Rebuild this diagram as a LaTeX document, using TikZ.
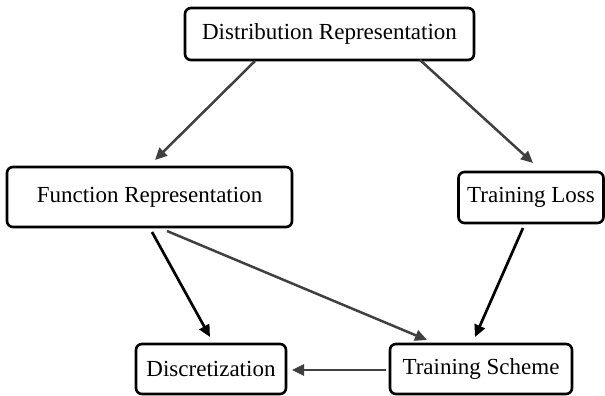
\documentclass[tikz,border=0pt]{standalone}
\usepackage{fontspec}
\setmainfont{Liberation Serif}
\usetikzlibrary{arrows.meta,calc}
\definecolor{arrgray}{HTML}{404040}
\begin{document}
\begin{tikzpicture}[x=1pt,y=-1pt,
  box/.style={draw=black,line width=2.6pt,rounded corners=6pt,fill=white,inner sep=0pt,
    font=\fontsize{23}{27}\selectfont},
  garrow/.style={draw=arrgray,line width=2.5pt,-{Triangle[length=12pt,width=11pt]}},
  barrow/.style={draw=black,line width=2.7pt,-{Triangle[length=12pt,width=11pt]}}]
\useasboundingbox (0,0) rectangle (605,396);
\node[box,minimum width=289pt,minimum height=52pt] (dist) at (329.5,34) {Distribution Representation};
\node[box,minimum width=285pt,minimum height=60pt] (func) at (149.5,197) {Function Representation};
\node[box,minimum width=145pt,minimum height=51pt] (loss) at (531,197.5) {Training Loss};
\node[box,minimum width=150pt,minimum height=50pt] (disc) at (211,369) {Discretization};
\node[box,minimum width=182pt,minimum height=50pt] (scheme) at (481,369) {Training Scheme};
\draw[garrow] ($(dist.center)+(-74.5,27)$) -- ($(func.center)+(5.5,-37)$);
\draw[garrow] ($(dist.center)+(90.5,26)$) -- ($(loss.center)+(2,-34.5)$);
\draw[barrow] ($(func.center)+(2.5,35)$) -- ($(disc.center)+(-1,-32)$);
\draw[garrow] ($(func.center)+(17.5,34)$) -- ($(scheme.center)+(-54,-29)$);
\draw[barrow] ($(loss.center)+(-8,30.5)$) -- ($(scheme.center)+(-6,-32)$);
\draw[garrow] ($(scheme.center)+(-95,1)$) -- ($(disc.center)+(81,1)$);
\end{tikzpicture}
\end{document}
